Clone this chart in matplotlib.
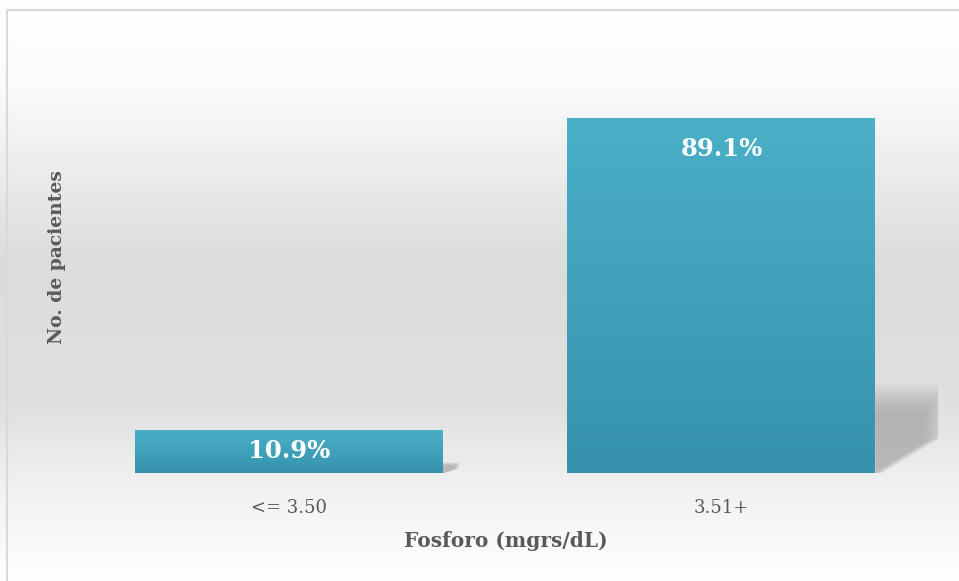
import numpy as np
import matplotlib
matplotlib.use("Agg")
from matplotlib import pyplot as plt
from matplotlib.colors import LinearSegmentedColormap
from matplotlib.patches import Polygon, Rectangle

categories = ["<= 3.50", "3.51+"]
values = [10.9, 89.1]
value_labels = ["10.9%", "89.1%"]
xlabel = "Fosforo (mgrs/dL)"
ylabel = "No. de pacientes"

plt.rcParams['font.family'] = ['DejaVu Serif']

fig = plt.figure(figsize=(9.59, 5.81), dpi=100)

# background: soft vertical gradient + light border
bg = fig.add_axes([0, 0, 1, 1], zorder=0)
bg.set_axis_off()
stops = [(0.0, "#ffffff"), (0.15, "#fbfbfb"), (0.45, "#dcdcdc"),
         (0.70, "#e0e0e0"), (0.82, "#efefef"), (1.0, "#ffffff")]
bg_cmap = LinearSegmentedColormap.from_list("bg", stops)
grad = np.linspace(0, 1, 256).reshape(-1, 1)
bg.imshow(grad, cmap=bg_cmap, aspect="auto", extent=[0, 1, 0, 1],
          origin="upper", transform=bg.transAxes)
bg.add_patch(Rectangle((7 / 959, -0.01), 1.0, 1 - 10.5 / 581 + 0.01,
                       transform=bg.transAxes, fill=False,
                       edgecolor="#d9d9d9", linewidth=1.5))
bg.set_xlim(0, 1)
bg.set_ylim(0, 1)

ax = fig.add_axes([0.0761, 0.1859, 0.9015, 0.6857], zorder=1)
ax.patch.set_alpha(0)
x = np.arange(len(categories))
bars = ax.bar(x, values, width=0.712, color="#45a6c0", zorder=3)
ax.set_xlim(-0.5, 1.5)
ax.set_ylim(0, 100)

# soft perspective shadow to the right of each bar
for b, v in zip(bars, values):
    x1 = b.get_x() + b.get_width()
    ext = 0.15 * (v / max(values)) + 0.02
    top = 0.25 * v
    n = 12
    for k in range(n):
        f = k / n
        dx = ext * 0.35 * f
        dy = top * 0.35 * f
        poly = Polygon([(x1, top - dy), (x1 + ext - dx, top - dy),
                        (x1 + ext - dx, top * 0.45 - dy * 0.3),
                        (x1, -top * 0.05 + dy * 0.2)],
                       closed=True, facecolor="#8a8a8a", edgecolor="none",
                       alpha=0.055, zorder=2)
        ax.add_patch(poly)

# bar gradient fill
bar_cmap = LinearSegmentedColormap.from_list("bar", ["#3692ad", "#4bafc8"])
for b in bars:
    x0, w, h = b.get_x(), b.get_width(), b.get_height()
    im = ax.imshow(np.linspace(0, 1, 100).reshape(-1, 1), cmap=bar_cmap,
                   aspect="auto", extent=[x0, x0 + w, 0, h], origin="lower",
                   zorder=4)
    im.set_clip_path(b)
ax.set_xlim(-0.5, 1.5)
ax.set_ylim(0, 100)

# labels inside end, or centred when the bar is short
px = 100 / (0.6857 * 581)
for b, lab in zip(bars, value_labels):
    h = b.get_height()
    yc = max(h - 31 * px, h / 2)
    ax.text(b.get_x() + b.get_width() / 2, yc, lab,
            ha="center", va="center", color="white", fontsize=17.5,
            fontweight="bold", zorder=5)

ax.set_xticks(x)
ax.set_xticklabels(categories, fontsize=13, color="#595959")
ax.tick_params(axis="x", length=0, pad=19)
ax.set_yticks([])
for s in ax.spines.values():
    s.set_visible(False)

fig.text(506 / 959, 1 - 541 / 581, xlabel, ha="center", va="center",
         fontsize=14.5, fontweight="bold", color="#595959")
fig.text(57 / 959, 1 - 257 / 581, ylabel, ha="center", va="center",
         rotation=90, fontsize=13.5, fontweight="bold", color="#595959")

fig.savefig("out.png", dpi=100)
